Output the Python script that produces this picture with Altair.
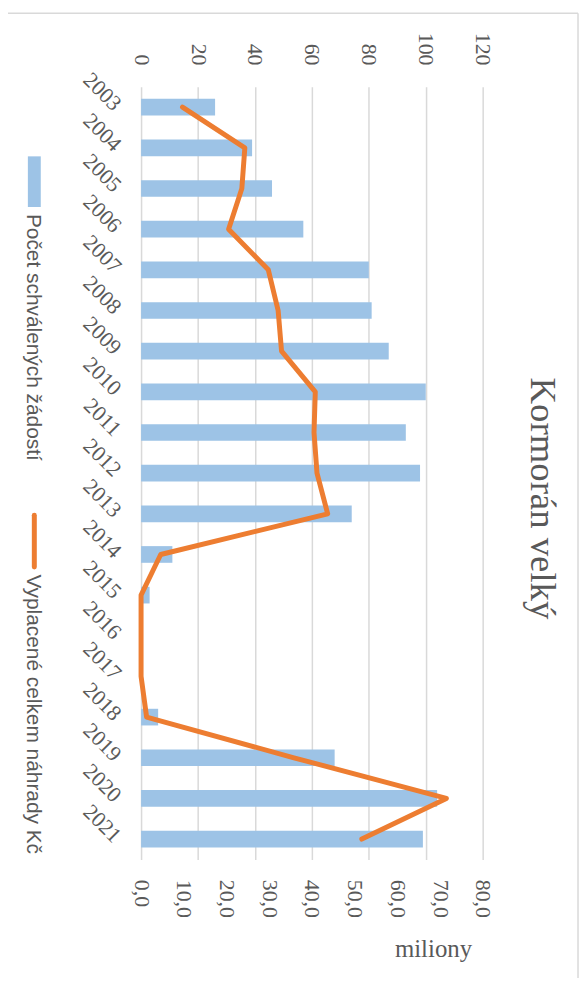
import altair as alt
import pandas as pd

years = [str(y) for y in range(2003, 2022)]
requests = [26, 39, 46, 57, 80, 81, 87, 100, 93, 98, 74, 11, 3, 0, 0, 6, 68, 104, 99]
paid_millions = [9.7, 24.3, 23.6, 20.5, 29.8, 32.1, 32.9, 40.8, 40.5, 41.2, 43.7,
                 4.6, 0.0, 0.0, 0.0, 1.3, 35.8, 71.5, 51.7]
count_ticks = [0, 20, 40, 60, 80, 100, 120]
million_ticks = [0, 10, 20, 30, 40, 50, 60, 70, 80]
legend_labels = ["Počet schválených žádostí", "Vyplacené celkem náhrady Kč"]
title_text = "Kormorán velký"
unit_text = "miliony"

df = pd.DataFrame({
    "year": years,
    "order": list(range(len(years))),
    "requests": requests,
    "paid": paid_millions,
})

GREY = "#595959"
SERIF = "Liberation Serif"
SANS = "Liberation Sans"
BLUE = "#9DC3E6"
ORANGE = "#ED7D31"

base = alt.Chart(df)

y_enc = alt.Y(
    "year:N",
    sort=years,
    scale=alt.Scale(paddingInner=0.59, paddingOuter=0.295),
    axis=alt.Axis(
        title=None, labelAngle=45, labelAlign="right", labelBaseline="middle",
        labelPadding=24, ticks=False, domain=False, grid=False,
        labelFont=SERIF, labelFontSize=22, labelColor=GREY,
    ),
)

bars = base.mark_bar(color=BLUE).encode(
    y=y_enc,
    x=alt.X(
        "requests:Q",
        scale=alt.Scale(domain=[0, 120], nice=False),
        axis=alt.Axis(
            orient="top", values=count_ticks, title=None, labelAngle=90,
            labelAlign="right", labelBaseline="middle", labelPadding=22,
            ticks=False, domain=False, grid=True, gridColor="#d9d9d9",
            gridWidth=1.5, labelFont=SERIF, labelFontSize=22, labelColor=GREY,
        ),
    ),
)

line = base.mark_line(
    color=ORANGE, strokeWidth=5, strokeCap="round", strokeJoin="round"
).encode(
    y=alt.Y("year:N", sort=years),
    x=alt.X(
        "paid:Q",
        scale=alt.Scale(domain=[0, 80], nice=False),
        axis=alt.Axis(
            orient="bottom", values=million_ticks, title=unit_text,
            labelExpr="replace(format(datum.value, '.1f'), '.', ',')",
            labelAngle=90, labelAlign="left", labelBaseline="middle",
            labelPadding=20, ticks=False, domain=False, grid=False,
            labelFont=SERIF, labelFontSize=22, labelColor=GREY,
            titleFont=SERIF, titleFontSize=25, titleFontWeight="normal",
            titleColor=GREY, titleAngle=0, titleAlign="center",
            titleBaseline="alphabetic", titleX=294, titleY=98,
        ),
    ),
    order=alt.Order("order:Q"),
)

leg1 = pd.DataFrame({"label": [legend_labels[0]]})
leg2 = pd.DataFrame({"label": [legend_labels[1]]})

leg_rect = alt.Chart(leg1).mark_rect(color=BLUE).encode(
    x=alt.value(-114), x2=alt.value(-101), y=alt.value(70), y2=alt.value(121)
)
leg_text1 = alt.Chart(leg1).mark_text(
    angle=90, align="left", baseline="alphabetic", font=SANS, fontSize=21, color=GREY
).encode(text="label:N", x=alt.value(-114.5), y=alt.value(128))

leg_line = alt.Chart(leg2).mark_rule(color=ORANGE, strokeWidth=5, strokeCap="round").encode(
    x=alt.value(-107.5), y=alt.value(431.5), y2=alt.value(483.5)
)
leg_text2 = alt.Chart(leg2).mark_text(
    angle=90, align="left", baseline="alphabetic", font=SANS, fontSize=21, color=GREY
).encode(text="label:N", x=alt.value(-114.5), y=alt.value(491))

border_top = alt.Chart(leg1).mark_rule(color="#d9d9d9", strokeWidth=1.5).encode(
    x=alt.value(-142), x2=alt.value(440), y=alt.value(-74)
)
border_right = alt.Chart(leg1).mark_rule(color="#d9d9d9", strokeWidth=1.5).encode(
    x=alt.value(440), y=alt.value(-74), y2=alt.value(903)
)

chart = alt.layer(
    bars, line, leg_rect, leg_text1, leg_line, leg_text2, border_top, border_right
).resolve_scale(
    x="independent"
).properties(
    width=344,
    height=778,
    padding={"left": 134, "top": 76, "right": 97, "bottom": 116},
    autosize=alt.AutoSizeParams(type="none"),
    title=alt.TitleParams(
        text=title_text, orient="right", angle=90, anchor="middle", frame="bounds",
        offset=-85, font=SERIF, fontSize=37, fontWeight="normal", color=GREY,
        baseline="alphabetic",
    ),
).configure_view(stroke=None)

chart.save("out.html", embed_options={"renderer": "svg", "actions": False})
